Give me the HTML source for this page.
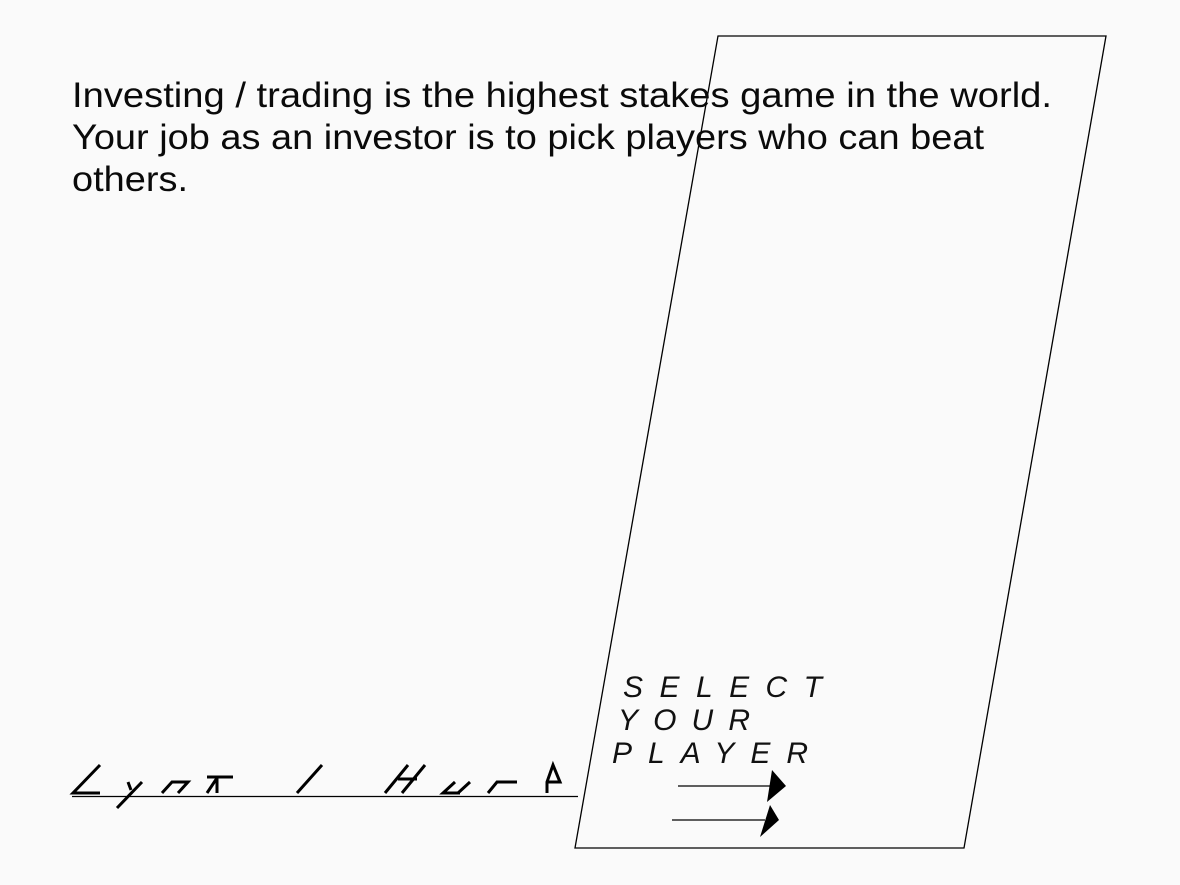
<!DOCTYPE html>
<html><head><meta charset="utf-8"><style>
html,body{margin:0;padding:0;background:#fafafa;}
svg{display:block;}
</style></head><body>
<svg width="1180" height="885" viewBox="0 0 1180 885" xmlns="http://www.w3.org/2000/svg">
<rect x="0" y="0" width="1180" height="885" fill="#fafafa"/>
<polygon points="718,36 1106,36 964,848 575,848" fill="none" stroke="#000" stroke-width="1.3"/>
<g font-family="Liberation Sans, sans-serif" font-size="35" fill="#0a0a0a">
<text x="72" y="107" textLength="980" lengthAdjust="spacingAndGlyphs">Investing / trading is the highest stakes game in the world.</text>
<text x="72" y="149" textLength="912" lengthAdjust="spacingAndGlyphs">Your job as an investor is to pick players who can beat</text>
<text x="72" y="191" textLength="116" lengthAdjust="spacingAndGlyphs">others.</text>
</g>
<g stroke="#000" stroke-width="3" stroke-linecap="butt" fill="none">
<path d="M100,765 L73,793 L100,793"/>
<path d="M142,782 L117,808 M128,782 L131,790"/>
<path d="M162,793 L172,782 L188,782 L178,793"/>
<path d="M207,777 L233,777 M217,778 L207,793 M217,778 L217,793"/>
<path d="M322,765 L297,793"/>
<path d="M408,765 L385,793 M425,765 L402,793 M398,779 L417,779"/>
<path d="M455,782 L443,793 L460,793 M470,782 L458,793"/>
<path d="M517,782 L497,782 L488,793"/>
<path d="M547,793 L547,782 L553,765 L560,782 L547,782"/>
</g>
<line x1="72" y1="796.5" x2="578" y2="796.5" stroke="#000" stroke-width="1.3"/>
<g font-family="Liberation Sans, sans-serif" font-style="italic" font-size="30" fill="#111">
<text x="623" y="697" textLength="199" lengthAdjust="spacing">SELECT</text>
<text x="618" y="730" textLength="132" lengthAdjust="spacing">YOUR</text>
<text x="612" y="763" textLength="196" lengthAdjust="spacing">PLAYER</text>
</g>
<g>
<line x1="678" y1="786" x2="772" y2="786" stroke="#000" stroke-width="1.3"/>
<polygon points="772,770 786,786 767,802" fill="#000"/>
<line x1="672" y1="820" x2="765" y2="820" stroke="#000" stroke-width="1.3"/>
<polygon points="770,805 779,820 760,837" fill="#000"/>
</g>
</svg>
</body></html>
